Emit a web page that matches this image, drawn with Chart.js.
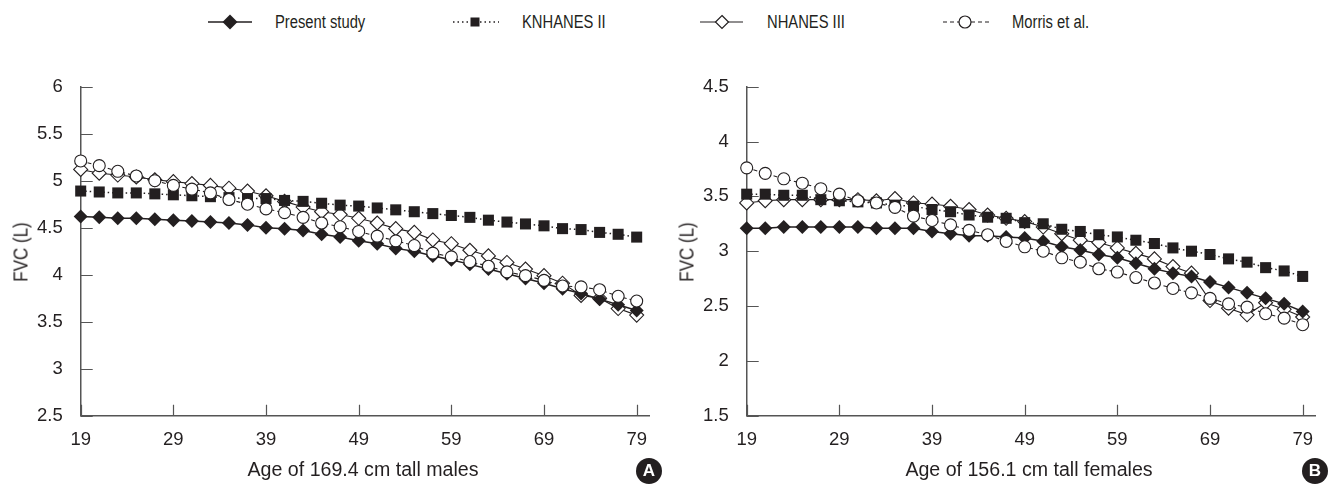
<!DOCTYPE html>
<html>
<head>
<meta charset="utf-8">
<script src="https://cdn.jsdelivr.net/npm/chart.js@4.4.1/dist/chart.umd.min.js"></script>
<style>
  body { margin: 0; width: 1333px; height: 486px; overflow: hidden; position: relative; background: #fff;
         font-family: "Liberation Sans", Arial, sans-serif; color: #231f20; }
  .box { position: absolute; top: 0; height: 486px; }
  #boxA { left: 0; width: 666px; }
  #boxB { left: 666px; width: 667px; }
  .leg { position: absolute; top: 10px; height: 24px; font-size: 18px; line-height: 24px; white-space: nowrap; }
  .leg svg { position: absolute; top: 0; }
  .leg span { position: absolute; display: inline-block; transform: scaleX(0.82); transform-origin: left center; }
  .ytitle { position: absolute; font-size: 20px; transform: translate(-50%, -50%) rotate(-90deg) scaleX(0.85); white-space: nowrap; }
  .xtitle { position: absolute; top: 458px; font-size: 19.6px; transform: translateX(-50%); white-space: nowrap; }
  .badge { position: absolute; width: 26px; height: 26px; border-radius: 50%; background: #231f20; color: #fff;
           font-weight: bold; font-size: 17px; line-height: 26px; text-align: center; }
</style>
</head>
<body>
<div class="leg" style="left:206px"><svg width="50" height="24"><line x1="2" y1="12" x2="46" y2="12" stroke="#231f20" stroke-width="1.5"/><polygon points="24,4.5 31.5,12 24,19.5 16.5,12" fill="#231f20"/></svg><span style="left:69px">Present study</span></div>
<div class="leg" style="left:451px"><svg width="52" height="24"><line x1="2" y1="12" x2="48" y2="12" stroke="#231f20" stroke-width="1.5" stroke-dasharray="1.5,3"/><rect x="19.5" y="7.5" width="9" height="9" fill="#231f20"/></svg><span style="left:71px">KNHANES II</span></div>
<div class="leg" style="left:698px"><svg width="50" height="24"><line x1="2" y1="12" x2="45" y2="12" stroke="#231f20" stroke-width="1.2"/><polygon points="24,5.5 30.5,12 24,18.5 17.5,12" fill="#fff" stroke="#231f20" stroke-width="1.2"/></svg><span style="left:69px">NHANES III</span></div>
<div class="leg" style="left:941px"><svg width="52" height="24"><line x1="2" y1="12" x2="48" y2="12" stroke="#231f20" stroke-width="1.2" stroke-dasharray="4,3"/><circle cx="24" cy="12" r="6" fill="#fff" stroke="#231f20" stroke-width="1.2"/></svg><span style="left:71px">Morris et al.</span></div>

<div class="box" id="boxA"><canvas id="chartA"></canvas></div>
<div class="box" id="boxB"><canvas id="chartB"></canvas></div>

<div class="ytitle" style="left:21px;top:252px">FVC (L)</div>
<div class="ytitle" style="left:687px;top:252px">FVC (L)</div>
<div class="xtitle" style="left:363px">Age of 169.4 cm tall males</div>
<div class="xtitle" style="left:1029px">Age of 156.1 cm tall females</div>
<div class="badge" style="left:636px;top:458px">A</div>
<div class="badge" style="left:1302px;top:458px">B</div>

<script>
const ages = [19, 21, 23, 25, 27, 29, 31, 33, 35, 37, 39, 41, 43, 45, 47, 49, 51, 53, 55, 57, 59, 61, 63, 65, 67, 69, 71, 73, 75, 77, 79];
const xTicks = [19, 29, 39, 49, 59, 69, 79];
const yTicksA = [2.5, 3, 3.5, 4, 4.5, 5, 5.5, 6];
const yTicksB = [1.5, 2, 2.5, 3, 3.5, 4, 4.5];
const seriesNames = ['Present study', 'KNHANES II', 'NHANES III', 'Morris et al.'];

// males, 169.4 cm
const presentA = [4.62, 4.61, 4.60, 4.60, 4.59, 4.58, 4.57, 4.56, 4.55, 4.53, 4.50, 4.49, 4.47, 4.43, 4.40, 4.36, 4.33, 4.28, 4.25, 4.20, 4.16, 4.11, 4.06, 4.01, 3.96, 3.91, 3.85, 3.80, 3.74, 3.68, 3.62];
const knhanesA = [4.89, 4.88, 4.87, 4.87, 4.86, 4.85, 4.84, 4.83, 4.82, 4.81, 4.81, 4.79, 4.78, 4.76, 4.74, 4.73, 4.71, 4.69, 4.67, 4.65, 4.63, 4.61, 4.58, 4.56, 4.54, 4.52, 4.49, 4.48, 4.45, 4.43, 4.40];
const nhanesA = [5.12, 5.08, 5.06, 5.04, 5.01, 4.99, 4.97, 4.95, 4.92, 4.89, 4.84, 4.78, 4.72, 4.67, 4.64, 4.60, 4.55, 4.49, 4.45, 4.37, 4.33, 4.26, 4.20, 4.13, 4.06, 3.99, 3.91, 3.78, 3.75, 3.64, 3.57];
const morrisA = [5.21, 5.16, 5.10, 5.05, 5.00, 4.95, 4.91, 4.87, 4.80, 4.75, 4.70, 4.66, 4.61, 4.55, 4.51, 4.46, 4.41, 4.36, 4.31, 4.23, 4.19, 4.14, 4.09, 4.03, 3.99, 3.94, 3.88, 3.87, 3.84, 3.77, 3.72];

// females, 156.1 cm
const presentB = [3.21, 3.21, 3.22, 3.22, 3.22, 3.22, 3.22, 3.21, 3.21, 3.21, 3.18, 3.16, 3.14, 3.14, 3.13, 3.12, 3.09, 3.04, 3.01, 2.97, 2.94, 2.89, 2.84, 2.80, 2.77, 2.72, 2.67, 2.62, 2.57, 2.52, 2.45];
const knhanesB = [3.52, 3.52, 3.51, 3.51, 3.47, 3.46, 3.45, 3.44, 3.42, 3.41, 3.38, 3.36, 3.33, 3.31, 3.30, 3.26, 3.25, 3.20, 3.18, 3.15, 3.13, 3.10, 3.07, 3.03, 3.00, 2.97, 2.93, 2.90, 2.85, 2.82, 2.77];
const nhanesB = [3.44, 3.46, 3.47, 3.47, 3.47, 3.47, 3.47, 3.46, 3.48, 3.44, 3.43, 3.41, 3.38, 3.33, 3.30, 3.27, 3.22, 3.16, 3.10, 3.08, 3.03, 2.98, 2.93, 2.86, 2.80, 2.55, 2.48, 2.42, 2.53, 2.47, 2.40];
const morrisB = [3.76, 3.71, 3.66, 3.62, 3.57, 3.52, 3.46, 3.44, 3.40, 3.32, 3.28, 3.24, 3.19, 3.15, 3.09, 3.04, 3.00, 2.94, 2.90, 2.84, 2.81, 2.76, 2.71, 2.66, 2.62, 2.57, 2.52, 2.49, 2.43, 2.39, 2.33];

const ink = '#231f20';
const axisColor = '#555';
const tickFont = { family: '"Liberation Sans", Arial, sans-serif', size: 18.5 };

function pts(values) {
  return ages.map((a, i) => ({ x: a, y: values[i] }));
}

// short tick marks pointing into the plot
const innerTicks = {
  id: 'innerTicks',
  beforeDatasetsDraw(chart) {
    const { ctx, chartArea: a, scales: { x, y } } = chart;
    ctx.save();
    ctx.strokeStyle = axisColor;
    ctx.lineWidth = 1.2;
    ctx.beginPath();
    y.ticks.forEach(t => {
      const py = Math.round(y.getPixelForValue(t.value)) + 0.5;
      ctx.moveTo(a.left, py); ctx.lineTo(a.left + 12, py);
    });
    x.ticks.forEach(t => {
      const px = Math.round(x.getPixelForValue(t.value)) + 0.5;
      ctx.moveTo(px, a.bottom); ctx.lineTo(px, a.bottom - 11);
    });
    ctx.stroke();
    ctx.restore();
  }
};

function makeChart(id, vals, yTicks, rightPad) {
  const [present, knhanes, nhanes, morris] = vals;
  return new Chart(document.getElementById(id), {
    type: 'line',
    data: {
      datasets: [
        { label: seriesNames[3], data: pts(morris), order: 1, borderColor: ink, borderWidth: 1.1, borderDash: [4, 3],
          pointStyle: 'circle', pointRadius: 6, pointBackgroundColor: '#fff', pointBorderColor: ink, pointBorderWidth: 1.1 },
        { label: seriesNames[1], data: pts(knhanes), order: 2, borderColor: ink, borderWidth: 1.5, borderDash: [1.5, 3],
          pointStyle: 'rect', pointRadius: 7.8, pointBackgroundColor: ink, pointBorderColor: ink, pointBorderWidth: 0 },
        { label: seriesNames[0], data: pts(present), order: 3, borderColor: ink, borderWidth: 1.5,
          pointStyle: 'rectRot', pointRadius: 7, pointBackgroundColor: ink, pointBorderColor: ink, pointBorderWidth: 0 },
        { label: seriesNames[2], data: pts(nhanes), order: 4, borderColor: ink, borderWidth: 1.1,
          pointStyle: 'rectRot', pointRadius: 7, pointBackgroundColor: '#fff', pointBorderColor: ink, pointBorderWidth: 1.1 }
      ]
    },
    options: {
      responsive: true,
      maintainAspectRatio: false,
      animation: false,
      events: [],
      layout: { padding: { left: 0, top: 86.7, right: rightPad, bottom: 0 } },
      elements: { line: { tension: 0 } },
      datasets: { line: { clip: false } },
      plugins: { legend: { display: false }, tooltip: { enabled: false } },
      scales: {
        x: {
          type: 'linear', min: 19, max: 80.33,
          afterBuildTicks: s => { s.ticks = xTicks.map(v => ({ value: v })); },
          afterFit: s => { s.height = 70.3; },
          grid: { display: false, drawTicks: false },
          border: { display: true, color: axisColor, width: 1.5 },
          ticks: { padding: 13.5, color: ink, font: tickFont, maxRotation: 0, autoSkip: false }
        },
        y: {
          min: yTicks[0], max: yTicks[yTicks.length - 1],
          afterBuildTicks: s => { s.ticks = yTicks.map(v => ({ value: v })); },
          afterFit: s => { s.width = 80.7; },
          grid: { display: false, drawTicks: false },
          border: { display: true, color: axisColor, width: 1.5 },
          ticks: { padding: 18, color: ink, font: tickFont, callback: v => String(v) }
        }
      }
    },
    plugins: [innerTicks]
  });
}

makeChart('chartA', [presentA, knhanesA, nhanesA, morrisA], yTicksA, 17);
makeChart('chartB', [presentB, knhanesB, nhanesB, morrisB], yTicksB, 18);
</script>
</body>
</html>
